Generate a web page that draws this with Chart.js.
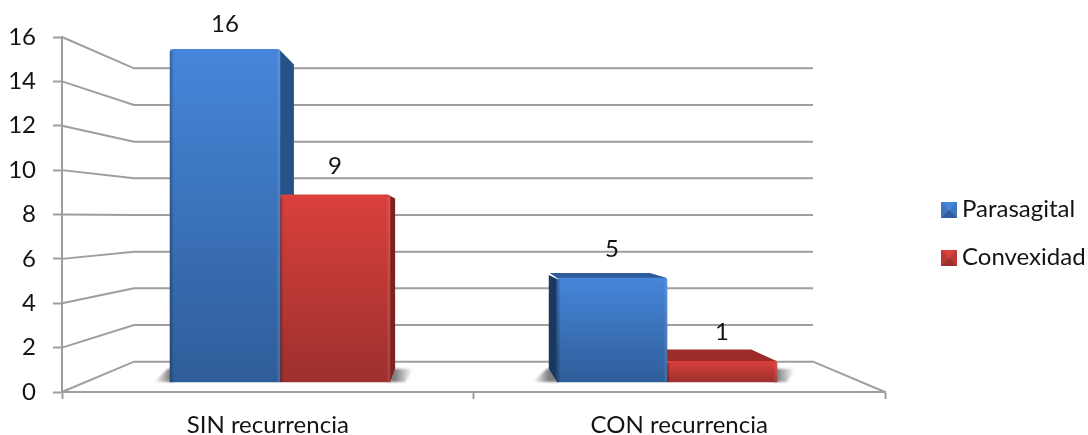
<!DOCTYPE html>
<html>
<head>
<meta charset="utf-8">
<title>Recurrencia por localización</title>
<script src="https://cdn.jsdelivr.net/npm/chart.js@4"></script>
<style>
  html, body { margin: 0; background: #fff; }
  canvas { display: block; }
</style>
</head>
<body>
<canvas id="chart" width="1088" height="435"></canvas>
<script>
const categories  = ['SIN recurrencia', 'CON recurrencia'];
const parasagital = [16, 5];
const convexidad  = [9, 1];
const yTicks      = [0, 2, 4, 6, 8, 10, 12, 14, 16];

const FONT_SIZE = 24;
const FONT      = FONT_SIZE + 'px Lato';
const TEXT      = '#141414';
const GRID      = '#9e9e9e';
const INSET     = 72;                  // how far the back wall sits inside the floor
const DEPTH     = 0.08;                // bar depth, as a share of the way to the vanishing point
const VANISH    = { x: 454, y: 215 };
const LEGEND    = { x: 941, y: [202, 250], box: 16, textX: 962 };

const BLUE = { top: '#4686da', bottom: '#2f5d99', side: '#265285', lid: '#2c5b9c', dark: '#1b3960', swatch: '#3f75bd' };
const RED  = { top: '#da403c', bottom: '#9c302d', side: '#7a2421', lid: '#9b2c29', dark: '#6e1f1d', swatch: '#b83a37' };

const toVanish = (x, y) => [x + (VANISH.x - x) * DEPTH, y + (VANISH.y - y) * DEPTH];

function fillPoly(ctx, pts, fill) {
  ctx.beginPath();
  pts.forEach(([x, y], i) => (i ? ctx.lineTo(x, y) : ctx.moveTo(x, y)));
  ctx.closePath();
  ctx.fillStyle = fill;
  ctx.fill();
}

function barFill(palette) {
  return c => {
    const s = c.chart.scales.yBars;
    if (!c.chart.chartArea || !s || !c.parsed) return palette.top;
    const top = s.getPixelForValue(c.parsed.y);
    const bottom = s.getPixelForValue(0);
    if (!Number.isFinite(top) || !Number.isFinite(bottom)) return palette.top;
    const g = c.chart.ctx.createLinearGradient(0, top, 0, bottom);
    g.addColorStop(0, palette.top);
    g.addColorStop(1, palette.bottom);
    return g;
  };
}

// back wall, left wall and floor edges
const wallPlugin = {
  id: 'wall',
  beforeDatasetsDraw(chart) {
    const { ctx, chartArea: { left, right }, scales: { y, yBack } } = chart;
    ctx.save();
    ctx.strokeStyle = GRID;
    ctx.lineWidth = 2;
    yTicks.forEach(v => {
      ctx.beginPath();
      ctx.moveTo(left, y.getPixelForValue(v));
      ctx.lineTo(left + INSET, yBack.getPixelForValue(v));
      ctx.lineTo(right - INSET, yBack.getPixelForValue(v));
      if (v === 0) ctx.lineTo(right, y.getPixelForValue(0));
      ctx.stroke();
    });
    ctx.restore();
  },
};

// floor shadows, side faces and top faces, all taken from the bar elements
const depthPlugin = {
  id: 'depth',
  beforeDatasetsDraw(chart) {
    const { ctx } = chart;
    const palettes = [BLUE, RED];
    ctx.save();

    ctx.filter = 'blur(1px)';
    [0, 1].forEach(i => {
      const blue = chart.getDatasetMeta(0).data[i];
      const red  = chart.getDatasetMeta(1).data[i];
      const base = blue.base;
      const l = blue.x - blue.width / 2;
      const r = red.x + red.width / 2;
      const [bl, by] = toVanish(l, base);
      const [br] = toVanish(r, base);
      const outL = i === 0 ? l : bl;
      const outR = i === 0 ? br : r;

      let g = ctx.createLinearGradient(outL - 16, 0, outL, 0);
      g.addColorStop(0, 'rgba(120,120,120,0)');
      g.addColorStop(1, 'rgba(105,105,105,0.85)');
      fillPoly(ctx, [[outL - 16, base], [l + 2, base], [bl + 2, by], [outL - 2, by]], g);

      g = ctx.createLinearGradient(outR, 0, outR + 18, 0);
      g.addColorStop(0, 'rgba(105,105,105,0.85)');
      g.addColorStop(1, 'rgba(120,120,120,0)');
      fillPoly(ctx, [[r - 2, base], [outR + 10, base], [outR + 18, by], [br - 2, by]], g);
    });
    ctx.filter = 'none';

    chart.data.datasets.forEach((ds, d) => {
      const p = palettes[d];
      chart.getDatasetMeta(d).data.forEach(bar => {
        const l = bar.x - bar.width / 2;
        const r = bar.x + bar.width / 2;
        const [tlx, tly] = toVanish(l, bar.y);
        const [trx, try_] = toVanish(r, bar.y);
        const [blx, bly] = toVanish(l, bar.base);
        const [brx, bry] = toVanish(r, bar.base);
        if (r < VANISH.x) fillPoly(ctx, [[r, bar.y + 1], [trx, try_ + 2], [brx, bry], [r, bar.base]], p.side);
        if (l > VANISH.x) fillPoly(ctx, [[l, bar.y + 1], [tlx, tly + 2], [blx, bly], [l, bar.base]], p.dark);
        if (bar.y > VANISH.y) fillPoly(ctx, [[l, bar.y], [tlx + 1, tly], [trx, try_], [r, bar.y]], p.lid);
      });
    });
    ctx.restore();
  },
  afterDatasetsDraw(chart) {
    const { ctx } = chart;
    ctx.save();

    // bevel on the front faces: dark left edge, light right edge
    chart.data.datasets.forEach((ds, d) => {
      chart.getDatasetMeta(d).data.forEach(bar => {
        const l = bar.x - bar.width / 2;
        const r = bar.x + bar.width / 2;
        const g = ctx.createLinearGradient(l, 0, r, 0);
        g.addColorStop(0, 'rgba(0,0,0,0.28)');
        g.addColorStop(0.035, 'rgba(0,0,0,0)');
        g.addColorStop(0.965, 'rgba(255,255,255,0)');
        g.addColorStop(1, 'rgba(255,255,255,0.12)');
        ctx.fillStyle = g;
        ctx.fillRect(l, bar.y + 2, r - l, bar.base - bar.y - 2);
      });
    });

    ctx.font = FONT;
    ctx.fillStyle = TEXT;
    ctx.textAlign = 'center';
    ctx.textBaseline = 'middle';
    chart.data.datasets.forEach((ds, d) => {
      chart.getDatasetMeta(d).data.forEach((bar, i) => {
        ctx.fillText(String(ds.data[i].y), bar.x, Math.max(bar.y - 29, 24));
      });
    });
    ctx.restore();
  },
};

function legendSwatch(ctx, x, y, size, p) {
  const m = size / 2;
  fillPoly(ctx, [[x, y], [x + size, y], [x + size, y + size], [x, y + size]], p.swatch);
  fillPoly(ctx, [[x, y + size], [x + size, y + size], [x + m, y + m]], p.bottom);
  fillPoly(ctx, [[x + 1, y], [x + size - 1, y], [x + m, y + m + 1]], p.top);
}

const legendPlugin = {
  id: 'sideLegend',
  afterDraw(chart) {
    const { ctx } = chart;
    ctx.save();
    ctx.font = FONT;
    ctx.textBaseline = 'middle';
    chart.data.datasets.forEach((ds, d) => {
      const y = LEGEND.y[d];
      legendSwatch(ctx, LEGEND.x, y, LEGEND.box, d === 0 ? BLUE : RED);
      ctx.fillStyle = TEXT;
      ctx.fillText(ds.label, LEGEND.textX, y + LEGEND.box / 2 - 1);
    });
    ctx.restore();
  },
};

const points = values => values.map((v, i) => ({ x: i, y: v }));

const dataset = (label, values, palette) => ({
  label,
  data: points(values),
  xAxisID: 'xBars',
  yAxisID: 'yBars',
  barThickness: 110,
  backgroundColor: barFill(palette),
  borderRadius: { topLeft: 3, topRight: 3 },
});

new Chart(document.getElementById('chart'), {
  type: 'bar',
  data: {
    labels: categories,
    datasets: [dataset('Parasagital', parasagital, BLUE), dataset('Convexidad', convexidad, RED)],
  },
  plugins: [wallPlugin, depthPlugin, legendPlugin],
  options: {
    responsive: false,
    animation: false,
    layout: { padding: { top: 37, right: 203, left: 0, bottom: 0 } },
    plugins: { legend: { display: false }, tooltip: { enabled: false } },
    scales: {
      // visible axes, on the front edge of the floor
      x: {
        type: 'category',
        offset: true,
        afterFit: s => { s.height = 43; },
        grid: { offset: true, drawOnChartArea: false, tickLength: 7, tickWidth: 2, tickColor: GRID },
        border: { color: GRID, width: 2 },
        ticks: { font: { family: 'Lato', size: FONT_SIZE }, color: TEXT, padding: 12, maxRotation: 0 },
      },
      y: {
        min: 0,
        max: 16,
        afterFit: s => { s.width = 62; },
        afterBuildTicks: s => { s.ticks = yTicks.map(value => ({ value })); },
        grid: { drawOnChartArea: false, tickLength: 9, tickWidth: 2, tickColor: GRID },
        border: { color: GRID, width: 2 },
        ticks: { font: { family: 'Lato', size: FONT_SIZE }, color: TEXT, padding: 17 },
      },
      // plane the bars stand on, set in from the axes
      xBars: { type: 'linear', axis: 'x', display: false, offset: false, grid: { offset: false }, min: -0.5633, max: 1.5633 },
      yBars: { type: 'linear', axis: 'y', display: false, min: -0.48, max: 16.587 },
      // back wall
      yBack: { type: 'linear', axis: 'y', display: false, min: -1.653, max: 16 + 1.71 },
    },
  },
});
</script>
</body>
</html>
